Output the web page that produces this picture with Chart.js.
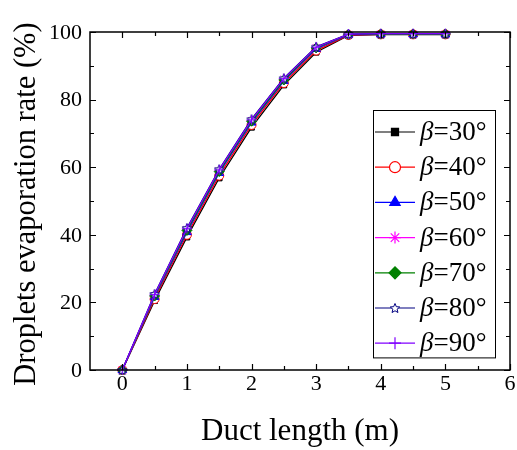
<!DOCTYPE html>
<html>
<head>
<meta charset="utf-8">
<script src="https://cdn.jsdelivr.net/npm/chart.js@4.4.1/dist/chart.umd.min.js"></script>
<style>
  html, body { margin: 0; padding: 0; background: #fff; }
  #wrap { width: 517px; height: 450px; }
</style>
</head>
<body>
<div id="wrap"><canvas id="chart"></canvas></div>
<script>
// data
const ductLength = [0, 0.5, 1, 1.5, 2, 2.5, 3, 3.5, 4, 4.5, 5];
const beta30 = [0, 20.5, 39.3, 56.8, 71.8, 84.3, 94.0, 99.0, 99.2, 99.2, 99.2];
const beta40 = [0, 21.0, 40.0, 57.5, 72.5, 84.9, 94.5, 99.1, 99.3, 99.3, 99.3];
const beta50 = [0, 21.6, 40.8, 58.3, 73.2, 85.5, 95.0, 99.2, 99.3, 99.3, 99.3];
const beta60 = [0, 22.0, 41.5, 58.9, 73.8, 86.0, 95.4, 99.3, 99.4, 99.4, 99.4];
const beta70 = [0, 21.9, 41.3, 58.7, 73.6, 85.8, 95.3, 99.3, 99.4, 99.4, 99.4];
const beta80 = [0, 22.5, 42.0, 59.4, 74.2, 86.3, 95.6, 99.4, 99.5, 99.5, 99.5];
const beta90 = [0, 22.3, 41.8, 59.2, 74.0, 86.2, 95.5, 99.4, 99.5, 99.5, 99.5];
const seriesNames = ["30°", "40°", "50°", "60°", "70°", "80°", "90°"];
const xTicks = [0, 1, 2, 3, 4, 5, 6];
const yTicks = [0, 20, 40, 60, 80, 100];
const xTitle = "Duct length (m)";
const yTitle = "Droplets evaporation rate (%)";

const SERIF = "'Liberation Serif', 'Times New Roman', serif";

// hollow 5-point star for the 80 deg series
function makeStar(size, color) {
  let c = document.createElement("canvas");
  c.width = size;
  c.height = size;
  let g = c.getContext("2d");
  let cx = size / 2, cy = size / 2 + 0.5, R = size / 2 - 1, r = R * 0.45;
  g.beginPath();
  for (let i = 0; i < 10; i++) {
    let rad = i % 2 === 0 ? R : r;
    let a = -Math.PI / 2 + (i * Math.PI) / 5;
    g.lineTo(cx + rad * Math.cos(a), cy + rad * Math.sin(a));
  }
  g.closePath();
  g.fillStyle = "#fff";
  g.fill();
  g.strokeStyle = color;
  g.lineWidth = 1;
  g.stroke();
  return c;
}
const starImg = makeStar(12, "#000080");

const styles = [
  { color: "#000000", point: "rect", fill: "#000000", radius: 4 },
  { color: "#ff0000", point: "circle", fill: "#ffffff", radius: 4.5 },
  { color: "#0000ff", point: "triangle", fill: "#0000ff", radius: 5 },
  { color: "#ff00ff", point: "star", fill: "#ff00ff", radius: 5 },
  { color: "#008000", point: "rectRot", fill: "#008000", radius: 5 },
  { color: "#000080", point: starImg, fill: "#ffffff", radius: 5 },
  { color: "#8000ff", point: "cross", fill: "#8000ff", radius: 5 }
];
const seriesValues = [beta30, beta40, beta50, beta60, beta70, beta80, beta90];

const datasets = seriesValues.map((vals, i) => ({
  label: "β=" + seriesNames[i],
  data: ductLength.map((x, k) => ({ x: x, y: vals[k] })),
  borderColor: styles[i].color,
  backgroundColor: styles[i].fill,
  pointStyle: styles[i].point,
  pointRadius: styles[i].radius,
  pointBorderColor: styles[i].color,
  pointBackgroundColor: styles[i].fill,
  pointBorderWidth: 1,
  borderWidth: 1.3,
  tension: 0,
  clip: false,
  order: 7 - i
}));

// frame with inward ticks on all four sides, plus tick labels and titles
const framePlugin = {
  id: "frame",
  afterDraw(chart) {
    let ctx = chart.ctx;
    let a = chart.chartArea;
    let xs = chart.scales.x, ys = chart.scales.y;
    ctx.save();
    ctx.strokeStyle = "#000";
    ctx.lineWidth = 1.5;
    ctx.strokeRect(a.left, a.top, a.right - a.left, a.bottom - a.top);
    ctx.lineWidth = 1.2;
    ctx.beginPath();
    for (let v = 0; v <= 6; v += 0.5) {
      let px = Math.round(xs.getPixelForValue(v)) + 0.5;
      let len = Number.isInteger(v) ? 6 : 4;
      ctx.moveTo(px, a.bottom); ctx.lineTo(px, a.bottom - len);
      ctx.moveTo(px, a.top); ctx.lineTo(px, a.top + len);
    }
    for (let v = 0; v <= 100; v += 10) {
      let py = Math.round(ys.getPixelForValue(v)) + 0.5;
      let len = v % 20 === 0 ? 6 : 4;
      ctx.moveTo(a.left, py); ctx.lineTo(a.left + len, py);
      ctx.moveTo(a.right, py); ctx.lineTo(a.right - len, py);
    }
    ctx.stroke();

    // tick labels
    ctx.fillStyle = "#000";
    ctx.font = "22px " + SERIF;
    ctx.textAlign = "center";
    ctx.textBaseline = "middle";
    xTicks.forEach((v) => {
      ctx.fillText(String(v), xs.getPixelForValue(v), a.bottom + 14);
    });
    ctx.textAlign = "right";
    yTicks.forEach((v) => {
      ctx.fillText(String(v), a.left - 8, ys.getPixelForValue(v) + 1);
    });

    // axis titles
    ctx.font = "31px " + SERIF;
    ctx.textAlign = "center";
    ctx.fillText(xTitle, (a.left + a.right) / 2, 432);
    ctx.translate(27, (a.top + a.bottom) / 2 + 3);
    ctx.rotate(-Math.PI / 2);
    ctx.font = "30.5px " + SERIF;
    ctx.fillText(yTitle, 0, 0);
    ctx.restore();
  }
};

// boxed legend drawn from the dataset styles
const legendPlugin = {
  id: "boxLegend",
  afterDraw(chart) {
    let ctx = chart.ctx;
    let left = 373, top = 110, w = 122, rowH = 35.2;
    let h = rowH * datasets.length + 1;
    ctx.save();
    ctx.fillStyle = "#fff";
    ctx.fillRect(left, top, w, h);
    ctx.strokeStyle = "#000";
    ctx.lineWidth = 1;
    ctx.strokeRect(left + 0.5, top + 0.5, w, h);
    chart.data.datasets.forEach((ds, i) => {
      let cy = top + 22 + i * rowH;
      ctx.strokeStyle = ds.borderColor;
      ctx.lineWidth = 1.2;
      ctx.beginPath();
      ctx.moveTo(left + 2, cy);
      ctx.lineTo(left + 42, cy);
      ctx.stroke();
      ctx.fillStyle = ds.pointBackgroundColor;
      ctx.strokeStyle = ds.pointBorderColor;
      ctx.lineWidth = 1.2;
      Chart.helpers.drawPoint(ctx, {
        pointStyle: ds.pointStyle,
        radius: ds.pointRadius + 1,
        rotation: 0,
        borderWidth: 1.2
      }, left + 22, cy);
      ctx.fillStyle = "#000";
      ctx.textBaseline = "middle";
      ctx.textAlign = "left";
      ctx.font = "italic 27px " + SERIF;
      let tx = left + 47;
      ctx.fillText("β", tx, cy + 1);
      tx += ctx.measureText("β").width;
      ctx.font = "27px " + SERIF;
      ctx.fillText("=" + seriesNames[i], tx, cy + 1);
    });
    ctx.restore();
  }
};

new Chart(document.getElementById("chart"), {
  type: "line",
  data: { datasets: datasets },
  plugins: [framePlugin, legendPlugin],
  options: {
    responsive: true,
    maintainAspectRatio: false,
    animation: false,
    layout: { padding: { top: 32, right: 7, left: 0, bottom: 0 } },
    plugins: {
      legend: { display: false },
      tooltip: { enabled: false }
    },
    scales: {
      x: {
        type: "linear",
        min: -0.5,
        max: 6,
        afterBuildTicks: (s) => { s.ticks = xTicks.map((v) => ({ value: v })); },
        afterFit: (s) => { s.height = 80; },
        grid: { display: false, drawTicks: false },
        border: { display: false },
        ticks: { display: false }
      },
      y: {
        min: 0,
        max: 100,
        afterBuildTicks: (s) => { s.ticks = yTicks.map((v) => ({ value: v })); },
        afterFit: (s) => { s.width = 90; },
        grid: { display: false, drawTicks: false },
        border: { display: false },
        ticks: { display: false }
      }
    }
  }
});
</script>
</body>
</html>
